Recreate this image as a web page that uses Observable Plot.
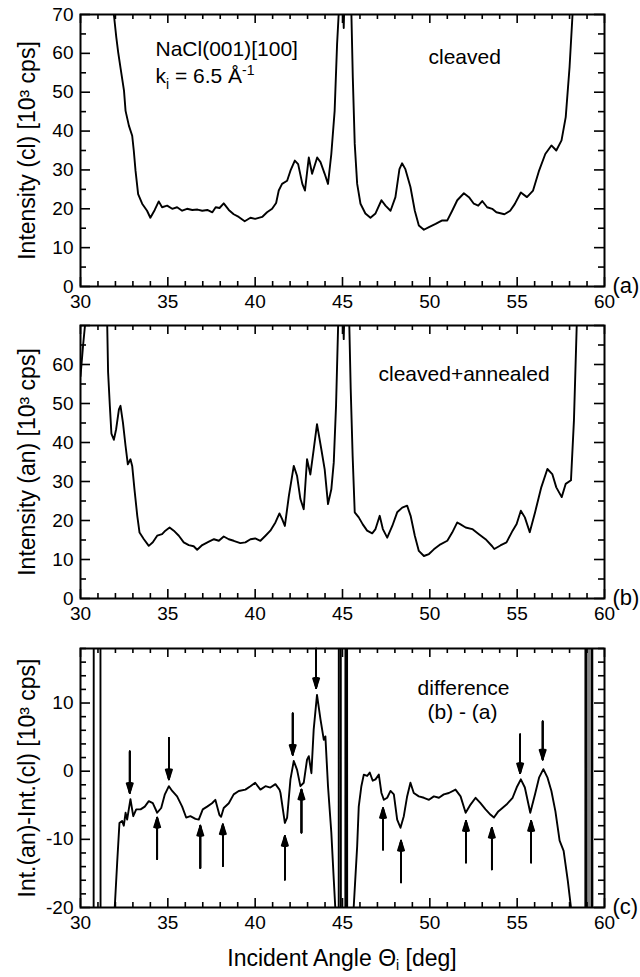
<!DOCTYPE html>
<html><head><meta charset="utf-8">
<script src="https://cdn.jsdelivr.net/npm/d3@7"></script>
<script src="https://cdn.jsdelivr.net/npm/@observablehq/plot@0.6"></script>
<style>
body{margin:0;background:#fff;font-family:"Liberation Sans",Arial,Helvetica,sans-serif;}
#wrap{position:relative;width:640px;height:977px;overflow:hidden;}
.panel{position:absolute;left:0;}
#xtitle{position:absolute;left:80px;width:524px;top:944px;text-align:center;font-size:23px;line-height:28px;color:#000;}
#xtitle sub{font-size:14px;vertical-align:-4px;line-height:0;}
</style></head><body>
<div id="wrap">
  <div id="pa" class="panel" style="top:0px"></div>
  <div id="pb" class="panel" style="top:316px"></div>
  <div id="pc" class="panel" style="top:636px"></div>
  <div id="xtitle">Incident Angle &Theta;<sub>i</sub> [deg]</div>
</div>
<script>
// ---------- data ----------
const xTickLabels = [30, 35, 40, 45, 50, 55, 60];

// (a) cleaved
const cleavedAngle = [31.85,31.91,32.05,32.16,32.30,32.49,32.58,32.77,32.96,33.05,33.15,33.30,33.53,33.81,34.0,34.25,34.48,34.67,34.96,35.25,35.53,35.82,36.1,36.4,36.7,36.97,37.26,37.55,37.74,37.96,38.2,38.49,38.77,39.06,39.4,39.73,40.0,40.4,40.68,40.97,41.2,41.35,41.54,41.83,42.02,42.27,42.46,42.7,42.85,43.07,43.26,43.55,43.74,43.98,44.17,44.36,44.55,44.69,44.78,44.85,45.04,45.07,45.10,45.45,45.51,45.59,45.7,45.84,46.03,46.31,46.6,46.89,47.23,47.46,47.75,48.03,48.26,48.41,48.6,48.89,49.14,49.37,49.66,49.95,50.33,50.71,51.0,51.28,51.57,51.95,52.24,52.52,52.77,53.0,53.28,53.57,53.81,54.27,54.6,54.86,55.21,55.56,55.91,56.26,56.61,56.96,57.24,57.54,57.78,58.0,58.17,58.25];
const cleavedIntensity = [76,70,64.1,60.2,56,50.4,45.2,41.4,38.8,35.0,29.8,23.8,21.3,19.5,17.7,19.7,21.9,20.4,20.8,20.0,20.4,19.5,20.0,19.7,19.8,19.5,19.7,19.1,20.4,20.2,21.4,19.7,18.6,17.9,16.8,17.7,17.4,17.9,19.1,20.0,21.5,24.7,26.4,27.2,29.8,32.4,31.5,26.4,24.7,33.2,29.0,33.2,32.0,29.0,26.4,34.1,45.2,62.4,70,80,72,66.5,72,80,70,53.8,36.7,26.4,21.3,18.8,17.7,18.8,22.2,20.8,19.5,23.0,30.2,31.7,30.2,25.6,19.5,15.7,14.6,15.3,16.1,17.0,17.0,19.5,22.2,24.0,23.0,21.3,20.8,22.0,20.4,20.0,19.1,18.6,19.5,21.2,24.2,23.0,24.7,29.9,34.1,36.3,35.0,37.6,43.6,56.5,70,80];

// (b) cleaved + annealed
const annealedAngle = [30.0,30.15,30.3,30.4,31.45,31.53,31.58,31.68,31.77,31.91,32.04,32.2,32.29,32.43,32.58,32.71,32.86,32.96,33.09,33.25,33.38,33.63,33.91,34.14,34.39,34.67,34.86,35.1,35.34,35.63,35.91,36.2,36.48,36.68,36.97,37.35,37.64,37.92,38.2,38.49,38.77,39.15,39.44,39.73,40.0,40.3,40.59,40.87,41.16,41.39,41.54,41.7,41.93,42.21,42.4,42.59,42.78,42.97,43.16,43.35,43.54,43.79,43.98,44.17,44.36,44.5,44.63,44.75,44.8,45.04,45.07,45.10,45.33,45.39,45.47,45.58,45.7,45.93,46.16,46.41,46.7,46.89,47.13,47.31,47.56,47.85,48.13,48.42,48.7,48.9,49.14,49.37,49.66,49.95,50.23,50.61,51.0,51.28,51.57,51.76,52.05,52.43,52.81,53.19,53.57,53.69,54.04,54.39,54.74,54.97,55.21,55.44,55.72,56.03,56.38,56.73,57.01,57.24,57.55,57.78,58.08,58.25,58.41,58.5];
const annealedIntensity = [57,65,72,80,80,70,58,49.4,42.3,40.7,43.4,48.5,49.4,45.1,39.1,34.4,35.7,34.0,28.0,21.2,16.9,15.2,13.5,14.4,16.1,16.5,17.4,18.2,17.4,16.1,14.4,13.7,13.4,12.5,13.7,14.6,15.2,14.8,15.9,15.2,14.8,14.2,14.4,15.2,15.4,14.8,16.1,17.4,19.5,21.8,20.4,18.6,26.3,34.0,31.4,25.5,22.9,35.7,31.8,38.2,44.7,38.2,33.1,24.2,28.0,34.9,49.4,70,80,72,66.5,72,80,70,53.7,36.6,22.1,20.8,19.0,17.4,16.7,17.8,21.2,17.8,15.6,18.6,22.1,23.3,23.8,21.2,16.1,12.2,10.9,11.4,12.6,13.9,14.8,16.9,19.5,19.0,18.2,17.8,16.5,15.2,13.4,12.7,13.6,14.4,17.4,19.1,22.5,20.8,17.0,22.2,28.5,33.2,31.9,28.5,26.0,29.4,30.3,45.6,70,80];

// (c) difference (b) - (a)
const diffAngle = [30.0,30.75,30.76,31.14,31.15,31.9,31.96,32.1,32.23,32.38,32.48,32.58,32.67,32.86,33.02,33.19,33.44,33.68,33.91,34.14,34.39,34.62,34.83,35.06,35.25,35.53,35.82,36.05,36.29,36.58,36.77,37.0,37.25,37.53,37.72,37.95,38.05,38.2,38.49,38.77,39.06,39.44,39.73,40.0,40.3,40.59,40.87,41.16,41.39,41.45,41.7,41.83,42.02,42.21,42.4,42.59,42.78,42.97,43.07,43.22,43.35,43.54,43.74,43.93,44.02,44.17,44.36,44.5,44.59,44.7,44.78,44.79,44.9,44.91,45.16,45.17,45.26,45.27,45.55,45.64,45.84,45.93,46.08,46.22,46.41,46.56,46.73,46.89,47.08,47.23,47.37,47.56,47.75,47.94,48.13,48.32,48.51,48.7,48.89,49.08,49.37,49.66,49.95,50.23,50.52,50.8,51.09,51.47,51.76,52.05,52.33,52.62,52.9,53.19,53.48,53.67,53.92,54.39,54.74,54.97,55.21,55.44,55.75,56.03,56.26,56.5,56.73,56.96,57.19,57.43,57.66,57.9,58.08,58.2,58.9,58.91,58.97,58.98,59.26,59.27,59.3,59.31,60.0];
const diffValue = [-40,-40,40,40,-40,-30,-20,-13.4,-7.6,-7.3,-8.0,-6.1,-7.1,-4.1,-6.6,-5.6,-5.6,-5.2,-4.4,-4.7,-6.1,-5.4,-3.4,-2.2,-2.9,-3.7,-5.2,-6.8,-6.6,-7.0,-7.1,-5.6,-5.2,-4.7,-4.2,-6.4,-6.7,-5.4,-4.7,-3.4,-2.9,-2.7,-2.2,-1.7,-2.7,-2.2,-2.4,-1.9,-2.7,-3.2,-7.6,-6.8,-1.2,1.5,0.2,-2.2,-1.7,1.7,2.2,-0.3,6.1,11.2,7.6,4.6,5.1,-2.2,-9.0,-15.9,-20.2,-40,-40,40,40,-40,-40,40,40,-40,-30,-20,-11,-5.2,-2.2,-0.5,-0.7,-0.2,-1.4,-1.2,-0.5,-3.2,-4.2,-3.9,-2.9,-3.4,-7.1,-8.3,-6.6,-3.7,-1.7,-3.2,-3.7,-3.9,-4.2,-3.7,-3.9,-3.4,-3.2,-2.7,-3.7,-6.1,-4.9,-3.9,-4.7,-5.6,-6.4,-6.8,-5.9,-4.9,-3.9,-2.4,-1.2,-2.4,-6.1,-3.3,-0.9,0.3,-0.9,-2.9,-5.9,-10.2,-11.7,-16.1,-20,-40,-40,40,40,-40,-40,40,40,-40,-40];
const diffGrayBand = [59.1, 59.17];

// arrows in (c)
const downArrowAngle = [32.82, 35.06, 42.15, 43.49, 55.17, 56.46];
const downArrowTail  = [2.9, 4.9, 8.5, 18.0, 5.4, 7.3];
const downArrowTip   = [-3.2, -1.2, 2.4, 12.2, -0.3, 1.7];
const upArrowAngle = [34.39, 36.86, 38.15, 41.7, 42.65, 47.32, 48.35, 52.07, 53.55, 55.8];
const upArrowTail  = [-12.9, -14.2, -13.9, -15.9, -9.0, -11.5, -16.3, -13.4, -14.4, -13.4];
const upArrowTip   = [-6.8, -8.0, -7.8, -9.5, -2.7, -5.4, -10.2, -7.3, -8.3, -7.3];

// axis ticks
const yTicksAB = [0, 10, 20, 30, 40, 50, 60, 70];
const yLabelsA = [0, 10, 20, 30, 40, 50, 60, 70];
const yLabelsB = [0, 10, 20, 30, 40, 50, 60];
const yTicksC = [-20, -10, 0, 10];
const yLabelsC = [-20, -10, 0, 10];

// ---------- drawing ----------
const FONT = '"Liberation Sans", Arial, Helvetica, sans-serif';
const W = 640, ML = 80, MR = 36;
const xMinor = d3.range(30, 61).filter(v => v % 5 !== 0);
const zip = (xs, ys) => xs.map((x, i) => ({x, y: ys[i]}));

function panel({el, height, mt, mb, angle, value, yDomain, yMajor, yMinorStep, yLabels, yTitle, tag, extra = [], texts = []}) {
  const plotH = height - mt - mb, plotW = W - ML - MR;
  const yMinor = d3.range(yDomain[0], yDomain[1] + 0.001, yMinorStep).filter(v => !yMajor.includes(v));
  const data = zip(angle, value);
  const marks = [
    Plot.line(data, {x: "x", y: "y", stroke: "black", strokeWidth: 1.9, clip: true}),
    ...extra,
    // inward ticks on all four sides
    Plot.tickX(xTickLabels, {x: d => d, insetTop: plotH - 9, strokeWidth: 1.6}),
    Plot.tickX(xMinor, {x: d => d, insetTop: plotH - 5, strokeWidth: 1.6}),
    Plot.tickX(xTickLabels, {x: d => d, insetBottom: plotH - 9, strokeWidth: 1.6}),
    Plot.tickX(xMinor, {x: d => d, insetBottom: plotH - 5, strokeWidth: 1.6}),
    Plot.tickY(yMajor, {y: d => d, insetRight: plotW - 10, strokeWidth: 1.6}),
    Plot.tickY(yMinor, {y: d => d, insetRight: plotW - 6, strokeWidth: 1.6}),
    Plot.tickY(yMajor, {y: d => d, insetLeft: plotW - 10, strokeWidth: 1.6}),
    Plot.tickY(yMinor, {y: d => d, insetLeft: plotW - 6, strokeWidth: 1.6}),
    Plot.frame({stroke: "black", strokeWidth: 2}),
    Plot.axisX(xTickLabels, {tickSize: 0, tickPadding: 8, fontSize: 19, tickFormat: d => String(d), label: null}),
    Plot.axisY(yLabels, {tickSize: 0, tickPadding: 7, fontSize: 19, tickFormat: d => String(d), label: null}),
    Plot.text([yTitle], {text: d => d, frameAnchor: "left", rotate: -90, dx: -53, textAnchor: "middle", lineAnchor: "middle", fontSize: 23, fill: "black"}),
    Plot.text([tag], {text: d => d, frameAnchor: "bottom-right", dx: 8, dy: -1, textAnchor: "start", lineAnchor: "middle", fontSize: 22, fill: "black"}),
    ...texts.map(t => Plot.text([t.s], {text: d => d, frameAnchor: "top-left", dx: t.dx, dy: t.dy, textAnchor: t.anchor || "start", lineAnchor: "middle", fontSize: 21, fill: "black"}))
  ];
  const svg = Plot.plot({
    width: W, height, marginTop: mt, marginBottom: mb, marginLeft: ML, marginRight: MR,
    x: {domain: [30, 60], axis: null},
    y: {domain: yDomain, axis: null},
    style: {fontFamily: FONT, fontSize: "19px", color: "black", background: "white", overflow: "visible"},
    marks
  });
  document.getElementById(el).appendChild(svg);
  return svg;
}

const svgA = panel({
  el: "pa", height: 316, mt: 14, mb: 30,
  angle: cleavedAngle, value: cleavedIntensity,
  yDomain: [0, 70], yMajor: yTicksAB, yMinorStep: 5, yLabels: yLabelsA,
  yTitle: "Intensity (cl) [10³ cps]", tag: "(a)",
  texts: [
    {s: "NaCl(001)[100]", dx: 75, dy: 35},
    {s: "KI_LINE", dx: 75, dy: 62},
    {s: "cleaved", dx: 348, dy: 43}
  ]
});

panel({
  el: "pb", height: 320, mt: 9, mb: 38,
  angle: annealedAngle, value: annealedIntensity,
  yDomain: [0, 70], yMajor: yTicksAB, yMinorStep: 5, yLabels: yLabelsB,
  yTitle: "Intensity (an) [10³ cps]", tag: "(b)",
  texts: [{s: "cleaved+annealed", dx: 298, dy: 49}]
});

const downArrows = downArrowAngle.map((a, i) => ({a, t: downArrowTail[i], h: downArrowTip[i]}));
const upArrows = upArrowAngle.map((a, i) => ({a, t: upArrowTail[i], h: upArrowTip[i]}));
const arrowAll = downArrows.concat(upArrows);
// narrow, filled-looking heads: nested arrow heads of decreasing opening
const arrowMarks = [36, 26, 16, 8].map(ang =>
  Plot.arrow(arrowAll, {x1: "a", y1: "t", x2: "a", y2: "h", stroke: "black", strokeWidth: 1.7, headLength: 9, headAngle: ang}));

panel({
  el: "pc", height: 310, mt: 12, mb: 39,
  angle: diffAngle, value: diffValue,
  yDomain: [-20, 18], yMajor: yTicksC, yMinorStep: 2, yLabels: yLabelsC,
  yTitle: "Int.(an)-Int.(cl) [10³ cps]", tag: "(c)",
  extra: [
    Plot.ruleX(diffGrayBand, {x: d => d, stroke: "#888", strokeWidth: 2}),
    ...arrowMarks
  ],
  texts: [
    {s: "difference", dx: 383, dy: 40, anchor: "middle"},
    {s: "(b) - (a)", dx: 382, dy: 64, anchor: "middle"}
  ]
});

// k_i line with proper sub/superscripts
d3.select(svgA).selectAll("text").filter(function() { return this.textContent === "KI_LINE"; })
  .each(function() {
    const t = d3.select(this);
    t.text(null);
    t.append("tspan").text("k");
    t.append("tspan").attr("dy", 6).attr("font-size", 14).text("i");
    t.append("tspan").attr("dy", -6).text(" = 6.5 Å");
    t.append("tspan").attr("dy", -8).attr("font-size", 14).text("-1");
  });
</script>
</body></html>
